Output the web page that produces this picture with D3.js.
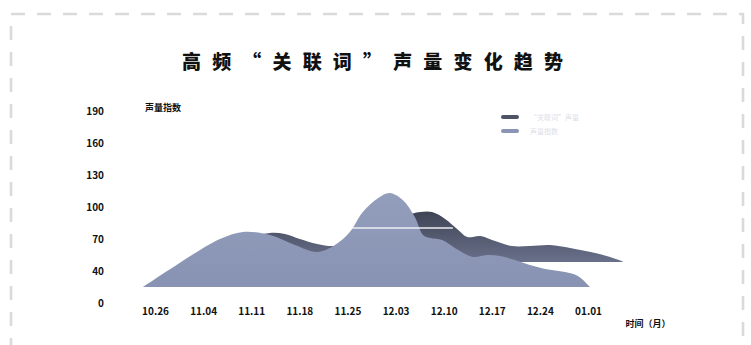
<!DOCTYPE html>
<html>
<head>
<meta charset="utf-8">
<script src="https://cdn.jsdelivr.net/npm/d3@7"></script>
<style>
  html, body { margin: 0; padding: 0; background: #ffffff; }
  svg { display: block; }
  text { font-family: "Noto Sans CJK SC", "Noto Sans", sans-serif; }
</style>
</head>
<body>
<svg id="chart" width="751" height="345"></svg>
<script>
// ---------- data ----------
const titleText = "高频“关联词”声量变化趋势";
const yAxisTitle = "声量指数";
const xAxisTitle = "时间（月）";
const xLabels = ["10.26", "11.04", "11.11", "11.18", "11.25", "12.03", "12.10", "12.17", "12.24", "01.01"];
const yLabels = ["190", "160", "130", "100", "70", "40", "0"];
const seriesNames = ["“关联词”声量", "声量指数"];

// dark ridge (back), positions on the date axis (index units) and values
const darkPos = [1.04, 1.66, 2.08, 2.39, 2.70, 3.01, 3.37, 3.74, 4.26, 4.75, 5.20, 5.51, 5.76, 6.03, 6.28, 6.49, 6.76, 7.07, 7.42, 7.79, 8.21, 8.63, 9.15, 9.46, 9.75];
const darkVal = [27.3, 45.9, 55.7, 59.0, 57.9, 52.4, 47.0, 44.8, 51.3, 64.0, 77.5, 81.9, 81.9, 74.3, 63.3, 54.6, 55.7, 50.2, 44.8, 44.8, 45.9, 42.6, 37.1, 32.8, 27.3];
const darkBase = 27.3;

// light ridge (front)
const lightPos = [-0.25, 0.87, 1.35, 1.83, 2.39, 2.91, 3.37, 3.74, 4.05, 4.32, 4.64, 4.88, 5.15, 5.40, 5.57, 5.72, 5.97, 6.30, 6.61, 6.90, 7.17, 7.48, 7.79, 8.11, 8.52, 8.79, 9.04];
const lightVal = [0, 38.2, 52.4, 60.1, 56.8, 45.9, 38.2, 45.9, 60.1, 81.9, 97.2, 102.6, 95.0, 76.4, 56.8, 53.5, 51.3, 40.4, 32.8, 34.9, 33.9, 29.5, 24.0, 19.7, 16.4, 12.0, 0];
const lightBase = 0;

// reference line
const markLineValue = [64.4];
const markLineSpan = [4.09, 6.19];

// ---------- drawing ----------
const svg = d3.select("#chart");

// dashed frame
svg.append("rect")
  .attr("x", 11).attr("y", 14)
  .attr("width", 732).attr("height", 360)
  .attr("fill", "none")
  .attr("stroke", "#dadada")
  .attr("stroke-width", 2.6)
  .attr("stroke-dasharray", "14 12");

// scales
const x = d3.scaleLinear().domain([0, xLabels.length - 1]).range([155, 588]);
const y = d3.scaleLinear().domain([0, 190]).range([287, 113]);
const yTick = d3.scalePoint().domain(yLabels).range([111, 303]);

// gradients
const defs = svg.append("defs");
const gDark = defs.append("linearGradient").attr("id", "gDark")
  .attr("x1", 0).attr("y1", 0).attr("x2", 0).attr("y2", 1);
gDark.append("stop").attr("offset", "0%").attr("stop-color", "#3f4454");
gDark.append("stop").attr("offset", "100%").attr("stop-color", "#69708a");
const gLight = defs.append("linearGradient").attr("id", "gLight")
  .attr("x1", 0).attr("y1", 0).attr("x2", 0).attr("y2", 1);
gLight.append("stop").attr("offset", "0%").attr("stop-color", "#939dbc");
gLight.append("stop").attr("offset", "100%").attr("stop-color", "#8892b2");

const darkData = darkPos.map((p, i) => ({ p, v: darkVal[i] }));
const lightData = lightPos.map((p, i) => ({ p, v: lightVal[i] }));

const areaFor = base => d3.area()
  .x(d => x(d.p))
  .y0(y(base))
  .y1(d => y(d.v))
  .curve(d3.curveCatmullRom.alpha(0.5));

svg.append("path").datum(darkData)
  .attr("d", areaFor(darkBase))
  .attr("fill", "url(#gDark)");

svg.append("path").datum(lightData)
  .attr("d", areaFor(lightBase))
  .attr("fill", "url(#gLight)");

// reference line
svg.append("line")
  .attr("x1", x(markLineSpan[0])).attr("x2", x(markLineSpan[1]))
  .attr("y1", y(markLineValue[0])).attr("y2", y(markLineValue[0]))
  .attr("stroke", "#eceef4").attr("stroke-width", 1.5);

// x axis
const xAxis = svg.append("g")
  .attr("transform", "translate(0,300)")
  .call(d3.axisBottom(x)
    .tickValues(d3.range(xLabels.length))
    .tickFormat(i => xLabels[i])
    .tickSize(0).tickPadding(8));
xAxis.select(".domain").remove();
xAxis.selectAll("text")
  .attr("fill", "#111")
  .style("font-size", "10px")
  .style("font-weight", "700");

// y axis
const yAxis = svg.append("g")
  .attr("transform", "translate(104,0)")
  .call(d3.axisLeft(yTick).tickSize(0).tickPadding(0));
yAxis.select(".domain").remove();
yAxis.selectAll("text")
  .attr("fill", "#111")
  .style("font-size", "10px")
  .style("font-weight", "700");

// axis titles
svg.append("text")
  .attr("x", 163).attr("y", 111)
  .attr("text-anchor", "middle")
  .attr("fill", "#111")
  .style("font-size", "9px").style("font-weight", "700")
  .text(yAxisTitle);

svg.append("text")
  .attr("x", 648).attr("y", 327)
  .attr("text-anchor", "middle")
  .attr("fill", "#111")
  .style("font-size", "9px").style("font-weight", "700")
  .text(xAxisTitle);

// title
svg.append("text")
  .attr("x", 372.5).attr("y", 69)
  .attr("text-anchor", "middle")
  .attr("fill", "#111")
  .attr("textLength", 381)
  .attr("lengthAdjust", "spacing")
  .style("font-size", "19px").style("font-weight", "900")
  .text(titleText);

// legend
const legendColors = ["#4e5366", "#8a94b4"];
const legend = svg.append("g");
seriesNames.forEach((name, i) => {
  legend.append("rect")
    .attr("x", 501).attr("y", 115 + i * 14)
    .attr("width", 18).attr("height", 4).attr("rx", 2)
    .attr("fill", legendColors[i]);
  legend.append("text")
    .attr("x", 530).attr("y", 119.5 + i * 14)
    .attr("fill", "#dde0e9")
    .style("font-size", "7px")
    .text(name);
});
</script>
</body>
</html>
